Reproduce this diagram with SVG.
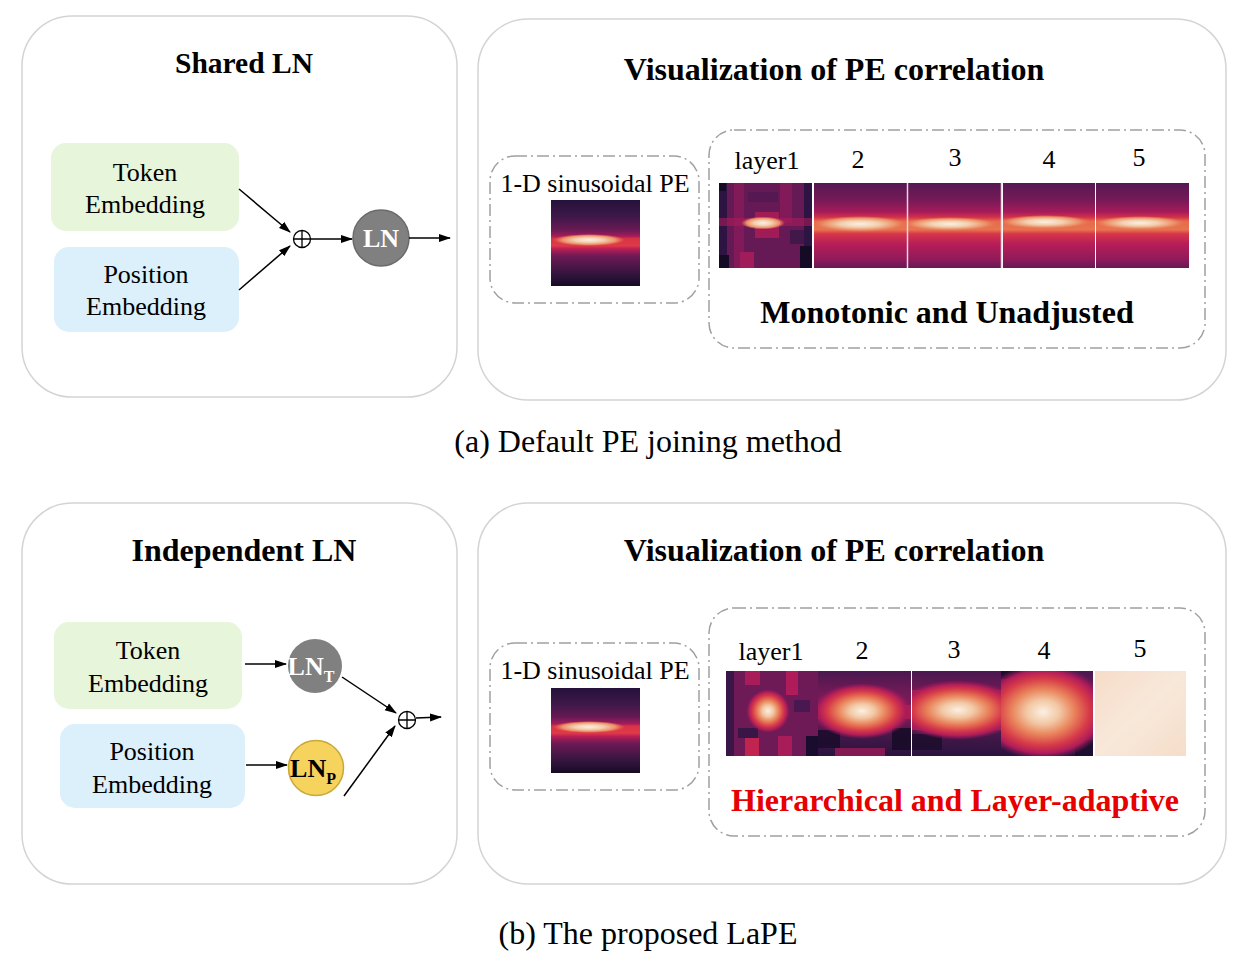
<svg xmlns="http://www.w3.org/2000/svg" width="1238" height="954" viewBox="0 0 1238 954">
<style>
.panel{fill:#fff;stroke:#d4d4d4;stroke-width:1.5}
.dash{fill:none;stroke:#a0a0a0;stroke-width:1.5;stroke-dasharray:12 4 2 4}
.t{font-family:"Liberation Serif","Times New Roman",serif;fill:#000;text-anchor:middle}
.b{font-weight:bold}
.lbl{font-size:26px}
.ttl{font-size:32px}
.cap{font-size:32px}
.conn{stroke:#000;stroke-width:1.5;fill:none;marker-end:url(#arr)}
</style>
<defs>
<marker id="arr" viewBox="0 0 12 10" refX="11" refY="5" markerWidth="12" markerHeight="10" markerUnits="userSpaceOnUse" orient="auto"><path d="M0,1 L12,5 L0,9 z" fill="#000"/></marker>
<linearGradient id="gSin" x1="0" y1="0" x2="0" y2="1">
<stop offset="0" stop-color="#25123a"/><stop offset="0.2" stop-color="#3f1849"/><stop offset="0.35" stop-color="#6a1a55"/>
<stop offset="0.42" stop-color="#a41c5a"/><stop offset="0.45" stop-color="#d83346"/><stop offset="0.53" stop-color="#e03a48"/>
<stop offset="0.57" stop-color="#b81e56"/><stop offset="0.65" stop-color="#6e1a55"/><stop offset="0.85" stop-color="#36153f"/><stop offset="1" stop-color="#160b26"/>
</linearGradient>
<linearGradient id="gBand" x1="0" y1="0" x2="0" y2="1">
<stop offset="0" stop-color="#561852"/><stop offset="0.2" stop-color="#761a57"/><stop offset="0.34" stop-color="#a61b5a"/>
<stop offset="0.4" stop-color="#d02f4a"/><stop offset="0.45" stop-color="#e66a4c"/><stop offset="0.55" stop-color="#e8744e"/>
<stop offset="0.6" stop-color="#d6354a"/><stop offset="0.72" stop-color="#b61d58"/><stop offset="0.9" stop-color="#901a5a"/><stop offset="1" stop-color="#661a55"/>
</linearGradient>
<radialGradient id="gSpot" cx="0.5" cy="0.5" r="0.5">
<stop offset="0" stop-color="#fbefe2"/><stop offset="0.4" stop-color="#f3d0b0"/><stop offset="0.75" stop-color="#eb9068"/><stop offset="1" stop-color="#e87050" stop-opacity="0"/>
</radialGradient>
<radialGradient id="gBlob" cx="0.5" cy="0.5" r="0.5">
<stop offset="0" stop-color="#fbf0e4"/><stop offset="0.25" stop-color="#f2c8a4"/><stop offset="0.48" stop-color="#e9825a"/>
<stop offset="0.7" stop-color="#d63a48"/><stop offset="0.86" stop-color="#b01c5a"/><stop offset="1" stop-color="#8a1a5a" stop-opacity="0"/>
</radialGradient>
<linearGradient id="gDark" x1="0" y1="0" x2="0" y2="1">
<stop offset="0" stop-color="#4a1850"/><stop offset="0.25" stop-color="#701a56"/><stop offset="0.5" stop-color="#8a1a5a"/><stop offset="0.75" stop-color="#461849"/><stop offset="1" stop-color="#2a1340"/>
</linearGradient>
<linearGradient id="gCream" x1="0" y1="0" x2="1" y2="1">
<stop offset="0" stop-color="#f6dcc8"/><stop offset="0.5" stop-color="#f8e8da"/><stop offset="1" stop-color="#f5ddc9"/>
</linearGradient>
<clipPath id="cA1"><rect x="719" y="183" width="93" height="85"/></clipPath>
<clipPath id="cA2"><rect x="814" y="183" width="93" height="85"/></clipPath>
<clipPath id="cA3"><rect x="908" y="183" width="93" height="85"/></clipPath>
<clipPath id="cA4"><rect x="1003" y="183" width="92" height="85"/></clipPath>
<clipPath id="cA5"><rect x="1096" y="183" width="93" height="85"/></clipPath>
<clipPath id="cB1"><rect x="726" y="671" width="92" height="85"/></clipPath>
<clipPath id="cB2"><rect x="818" y="671" width="93" height="85"/></clipPath>
<clipPath id="cB3"><rect x="912" y="671" width="89" height="85"/></clipPath>
<clipPath id="cB4"><rect x="1001" y="671" width="92" height="85"/></clipPath>
<clipPath id="cSa"><rect x="551" y="200" width="89" height="86"/></clipPath>
<clipPath id="cSb"><rect x="551" y="688" width="89" height="85"/></clipPath>
</defs>

<!-- ===== Panel (a) ===== -->
<g id="panel-a-left">
<rect class="panel" x="22" y="16" width="435" height="381" rx="50"/>
<text class="t b" x="244" y="73" font-size="29.5">Shared LN</text>
</g>
<g id="token-a">
<rect x="51" y="143" width="188" height="88" rx="15" fill="#e7f5db"/>
<text class="t lbl" x="145" y="181">Token</text>
<text class="t lbl" x="145" y="213">Embedding</text>
</g>
<g id="position-a">
<rect x="54" y="247" width="185" height="85" rx="15" fill="#dbf0fb"/>
<text class="t lbl" x="146" y="283">Position</text>
<text class="t lbl" x="146" y="315">Embedding</text>
</g>
<g id="plus-a">
<circle cx="302" cy="239" r="8.5" fill="none" stroke="#000" stroke-width="1.3"/>
<path d="M293.5,239 H310.5 M302,230.5 V247.5" stroke="#000" stroke-width="1.3"/>
</g>
<g id="ln-a">
<circle cx="381" cy="238" r="28" fill="#808080" stroke="#6a6a6a" stroke-width="1.5"/>
<text class="t b" x="381" y="247" font-size="26" style="fill:#fff">LN</text>
</g>

<g id="panel-a-right">
<rect class="panel" x="478" y="19" width="748" height="381" rx="50"/>
<text class="t b ttl" x="834" y="80">Visualization of PE correlation</text>
</g>
<g id="sin-a">
<rect class="dash" x="490" y="156" width="209" height="147" rx="25"/>
<text class="t lbl" x="595" y="192">1-D sinusoidal PE</text>
<g clip-path="url(#cSa)">
<rect x="551" y="200" width="89" height="86" fill="url(#gSin)"/>
<ellipse cx="589" cy="240" rx="36" ry="6" fill="url(#gSpot)"/>
</g>
</g>
<g id="layers-a">
<rect class="dash" x="709" y="130" width="496" height="218" rx="25"/>
<text class="t lbl" x="767" y="169">layer1</text>
<text class="t lbl" x="858" y="168">2</text>
<text class="t lbl" x="955" y="166">3</text>
<text class="t lbl" x="1049" y="168">4</text>
<text class="t lbl" x="1139" y="166">5</text>
<g clip-path="url(#cA1)">
<rect x="719" y="183" width="93" height="85" fill="#661a55"/>
<rect x="719" y="183" width="8" height="85" fill="#2e1442"/>
<rect x="804" y="183" width="8" height="85" fill="#2e1442"/>
<rect x="734" y="183" width="10" height="85" fill="#8a1a5a" opacity="0.8"/>
<rect x="780" y="183" width="12" height="40" fill="#8a1a5a" opacity="0.8"/>
<rect x="748" y="192" width="30" height="10" fill="#4a1850" opacity="0.6"/>
<rect x="790" y="230" width="14" height="14" fill="#3a1646" opacity="0.8"/>
<rect x="740" y="252" width="14" height="16" fill="#a01c5a"/>
<rect x="719" y="255" width="10" height="13" fill="#150b26"/>
<rect x="800" y="246" width="12" height="22" fill="#150b26"/>
<rect x="719" y="183" width="7" height="8" fill="#150b26"/>
<rect x="755" y="212" width="24" height="26" fill="#b01c58" opacity="0.8"/>
<rect x="719" y="218" width="93" height="8" fill="#a81c5a" opacity="0.6"/>
<ellipse cx="763" cy="223" rx="22" ry="6.5" fill="url(#gSpot)"/>
</g>
<g clip-path="url(#cA2)">
<rect x="814" y="183" width="93" height="85" fill="url(#gBand)"/>
<ellipse cx="860" cy="224" rx="48" ry="8" fill="url(#gSpot)"/>
</g>
<g clip-path="url(#cA3)">
<rect x="908" y="183" width="93" height="85" fill="url(#gBand)"/>
<ellipse cx="950" cy="224" rx="48" ry="7" fill="url(#gSpot)"/>
</g>
<g clip-path="url(#cA4)">
<rect x="1003" y="183" width="92" height="85" fill="url(#gBand)"/>
<ellipse cx="1045" cy="222" rx="46" ry="7" fill="url(#gSpot)"/>
</g>
<g clip-path="url(#cA5)">
<rect x="1096" y="183" width="93" height="85" fill="url(#gBand)"/>
<ellipse cx="1140" cy="223" rx="46" ry="7" fill="url(#gSpot)"/>
</g>
<line x1="907.5" y1="183" x2="907.5" y2="268" stroke="#ead6e0" stroke-width="1.5"/>
<line x1="1001.5" y1="183" x2="1001.5" y2="268" stroke="#ead6e0" stroke-width="1.5"/>
<text class="t b ttl" x="947" y="323">Monotonic and Unadjusted</text>
</g>
<text id="caption-a" class="t cap" x="648" y="452">(a) Default PE joining method</text>

<!-- ===== Panel (b) ===== -->
<g id="panel-b-left">
<rect class="panel" x="22" y="503" width="435" height="381" rx="50"/>
<text class="t b ttl" x="244" y="561">Independent LN</text>
</g>
<g id="token-b">
<rect x="54" y="622" width="188" height="87" rx="15" fill="#e7f5db"/>
<text class="t lbl" x="148" y="659">Token</text>
<text class="t lbl" x="148" y="692">Embedding</text>
</g>
<g id="position-b">
<rect x="60" y="724" width="185" height="84" rx="15" fill="#dbf0fb"/>
<text class="t lbl" x="152" y="760">Position</text>
<text class="t lbl" x="152" y="793">Embedding</text>
</g>
<g id="lnt-b">
<circle cx="315" cy="666" r="27" fill="#808080"/>
<text class="t b" x="311" y="675" font-size="26" style="fill:#fff">LN<tspan font-size="16" dy="7">T</tspan></text>
</g>
<g id="lnp-b">
<circle cx="316" cy="768" r="27.5" fill="#f6d35c" stroke="#c9a838" stroke-width="1.5"/>
<text class="t b" x="313" y="777" font-size="26">LN<tspan font-size="16" dy="7">P</tspan></text>
</g>
<g id="plus-b">
<circle cx="407" cy="720" r="8.5" fill="none" stroke="#000" stroke-width="1.3"/>
<path d="M398.5,720 H415.5 M407,711.5 V728.5" stroke="#000" stroke-width="1.3"/>
</g>

<g id="panel-b-right">
<rect class="panel" x="478" y="503" width="748" height="381" rx="50"/>
<text class="t b ttl" x="834" y="561">Visualization of PE correlation</text>
</g>
<g id="sin-b">
<rect class="dash" x="490" y="643" width="209" height="147" rx="25"/>
<text class="t lbl" x="595" y="679">1-D sinusoidal PE</text>
<g clip-path="url(#cSb)">
<rect x="551" y="688" width="89" height="85" fill="url(#gSin)"/>
<ellipse cx="589" cy="727" rx="36" ry="6" fill="url(#gSpot)"/>
</g>
</g>
<g id="layers-b">
<rect class="dash" x="709" y="608" width="496" height="228" rx="25"/>
<text class="t lbl" x="771" y="660">layer1</text>
<text class="t lbl" x="862" y="659">2</text>
<text class="t lbl" x="954" y="658">3</text>
<text class="t lbl" x="1044" y="659">4</text>
<text class="t lbl" x="1140" y="657">5</text>
<g clip-path="url(#cB1)">
<rect x="726" y="671" width="92" height="85" fill="#6e1a56"/>
<rect x="726" y="671" width="8" height="85" fill="#3a1646"/>
<rect x="745" y="671" width="15" height="14" fill="#a81c5a"/>
<rect x="786" y="671" width="12" height="24" fill="#b01c5a"/>
<rect x="738" y="728" width="20" height="10" fill="#3a1646"/>
<rect x="745" y="738" width="14" height="18" fill="#c0244f"/>
<rect x="778" y="736" width="14" height="20" fill="#a81c5a"/>
<rect x="806" y="736" width="12" height="20" fill="#1a0c2c"/>
<rect x="794" y="700" width="16" height="12" fill="#4a1850"/>
<ellipse cx="768" cy="711" rx="22" ry="22" fill="url(#gBlob)"/>
</g>
<g clip-path="url(#cB2)">
<rect x="818" y="671" width="93" height="85" fill="url(#gDark)"/>
<rect x="892" y="728" width="19" height="22" fill="#150b26" opacity="0.85"/>
<rect x="818" y="730" width="22" height="18" fill="#1a0c2c" opacity="0.85"/>
<rect x="835" y="748" width="50" height="8" fill="#a81c5a" opacity="0.7"/>
<rect x="818" y="705" width="93" height="14" fill="#c0244f" opacity="0.7"/>
<ellipse cx="862" cy="711" rx="50" ry="28" fill="url(#gBlob)"/>
</g>
<g clip-path="url(#cB3)">
<rect x="912" y="671" width="89" height="85" fill="url(#gDark)"/>
<rect x="912" y="734" width="30" height="16" fill="#150b26" opacity="0.7"/>
<rect x="912" y="690" width="89" height="40" fill="#c8284c" opacity="0.6"/>
<ellipse cx="958" cy="710" rx="64" ry="30" fill="url(#gBlob)"/>
</g>
<g clip-path="url(#cB4)">
<rect x="1001" y="671" width="92" height="85" fill="url(#gDark)"/>
<rect x="1001" y="671" width="20" height="8" fill="#150b26" opacity="0.8"/>
<rect x="1075" y="740" width="18" height="16" fill="#1a0c2c" opacity="0.8"/>
<ellipse cx="1043" cy="712" rx="66" ry="48" fill="url(#gBlob)"/>
</g>
<rect x="1095" y="671" width="91" height="85" fill="url(#gCream)"/>
<text class="t b ttl" x="955" y="811" style="fill:#e60000">Hierarchical and Layer-adaptive</text>
</g>
<text id="caption-b" class="t cap" x="648" y="944">(b) The proposed LaPE</text>

<g id="connectors">
<path class="conn" d="M239,189 L290,232"/>
<path class="conn" d="M239,290 L290,246"/>
<path class="conn" d="M311,239 L352,239"/>
<path class="conn" d="M409,238 L450,238"/>
<path class="conn" d="M245,664 L286,664"/>
<path class="conn" d="M246,765 L287,765"/>
<path class="conn" d="M342,677 L396,713"/>
<path class="conn" d="M344,796 L395,726"/>
<path class="conn" d="M416,718 L441,717"/>
</g>
</svg>
